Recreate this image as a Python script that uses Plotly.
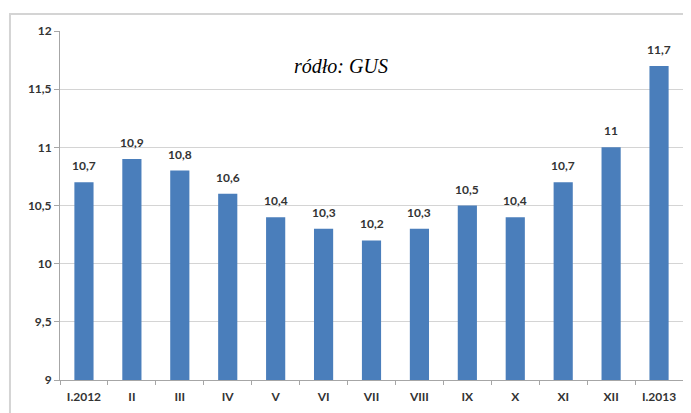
import plotly.graph_objects as go

categories = ["I.2012", "II", "III", "IV", "V", "VI", "VII", "VIII", "IX", "X", "XI", "XII", "I.2013"]
values = [10.7, 10.9, 10.8, 10.6, 10.4, 10.3, 10.2, 10.3, 10.5, 10.4, 10.7, 11.0, 11.7]
labels = ["10,7", "10,9", "10,8", "10,6", "10,4", "10,3", "10,2", "10,3", "10,5", "10,4", "10,7", "11", "11,7"]
y_ticks = [9, 9.5, 10, 10.5, 11, 11.5, 12]
y_tick_text = ["9", "9,5", "10", "10,5", "11", "11,5", "12"]
source_text = "ródło: GUS"

FONT = "Lato, Open Sans, Liberation Sans, sans-serif"
font_lbl = dict(family=FONT, size=12, color="#333333")

fig = go.Figure()
fig.add_trace(go.Bar(
    x=categories, y=values,
    marker=dict(color="#4A7EBB", line=dict(width=0)),
    width=0.4, hoverinfo="skip",
))

annotations = []
for c, v, t in zip(categories, values, labels):
    annotations.append(dict(
        x=c, y=v, text="<b>" + t + "</b>", showarrow=False,
        yanchor="bottom", yshift=7, font=font_lbl,
    ))
annotations.append(dict(
    x=0.451, y=0.90, xref="paper", yref="paper", text="<i>" + source_text + "</i>",
    showarrow=False, xanchor="center", yanchor="middle",
    font=dict(family="Liberation Serif, DejaVu Serif, serif", size=20, color="#000000"),
))

# page body has an 8px margin, so the figure is sized to fit the window after that offset
fig.update_layout(
    width=683, height=405,
    margin=dict(l=52, r=8, t=23, b=33),
    paper_bgcolor="white", plot_bgcolor="white",
    showlegend=False, bargap=0.6,
    annotations=annotations,
    shapes=[dict(type="rect", xref="paper", yref="paper",
                 x0=-0.0803, x1=1.011, y0=-0.2, y1=1.0487,
                 line=dict(color="#d4d4d4", width=2), fillcolor="rgba(0,0,0,0)", layer="below")],
    xaxis=dict(
        type="category", showgrid=False, showline=True, linecolor="#a6a6a6", linewidth=1,
        ticks="outside", ticklen=4, tickcolor="#a6a6a6", tickson="boundaries",
        ticklabelstandoff=6,
        tickfont=font_lbl,
        tickprefix="<b>", ticksuffix="</b>",
        range=[-0.5, 12.5], fixedrange=True, automargin=False,
    ),
    yaxis=dict(
        range=[9, 12], tickvals=y_ticks, ticktext=["<b>" + t + "</b>" for t in y_tick_text],
        showgrid=True, gridcolor="#d4d4d4", gridwidth=1,
        showline=True, linecolor="#a6a6a6", linewidth=1,
        ticks="outside", ticklen=5, tickcolor="#a6a6a6", ticklabelstandoff=0,
        tickfont=font_lbl,
        zeroline=False, fixedrange=True, automargin=False,
    ),
)

fig.write_html("out.html")
